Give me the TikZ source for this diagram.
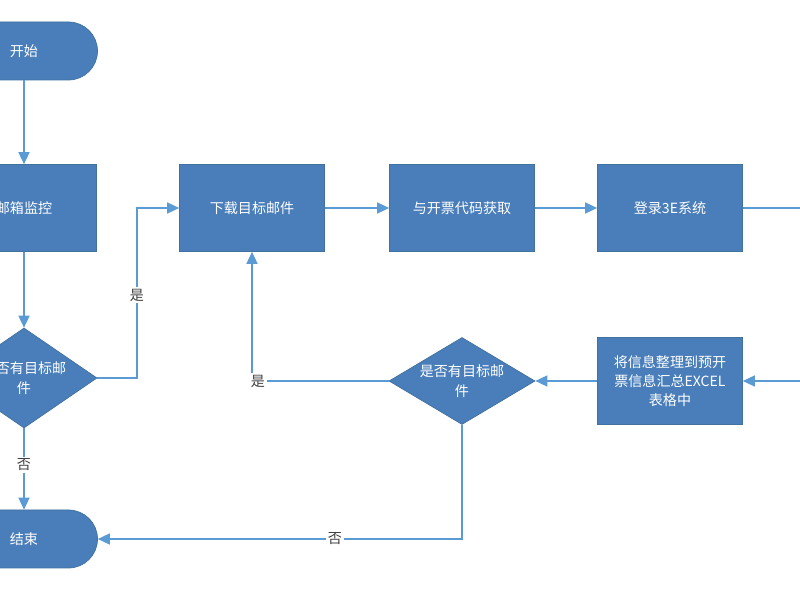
\documentclass[tikz,border=0pt]{standalone}
\usepackage{fontspec}
\newfontfamily\cjk{Noto Sans CJK SC}
\usetikzlibrary{shapes.geometric,arrows.meta}
\definecolor{boxfill}{HTML}{4A7EBB}
\definecolor{boxline}{HTML}{41719C}
\definecolor{flowline}{HTML}{5B9BD5}
\tikzset{
  proc/.style={draw=boxline,fill=boxfill,text=white,minimum width=29mm,minimum height=17.4mm,
    align=center,font=\cjk\fontsize{8}{11}\selectfont,inner sep=1pt},
  term/.style={proc,minimum width=29.4mm,minimum height=11.6mm,rounded corners=5.8mm},
  dec/.style={proc,diamond,inner sep=0pt},
  dectext/.style={text=white,align=center,font=\cjk\fontsize{8}{11}\selectfont,inner sep=0pt},
  flow/.style={draw=flowline,line width=0.9pt,-{Triangle[length=2.4mm,width=2.2mm]}},
  lab/.style={font=\cjk\fontsize{8}{10}\selectfont,text=black!75,fill=white,inner sep=1pt}
}
\begin{document}
\begin{tikzpicture}[x=0.2mm,y=-0.2mm]
  \clip (0,0) rectangle (800,600);
  \fill[white] (0,0) rectangle (800,600);
  \node[term] (start) at (24,51) {开始};
  \node[proc] (monitor) at (24,208) {邮箱监控};
  \node[dec,minimum width=29.2mm,minimum height=20mm] (check1) at (24,378) {};
  \node[dectext] at (check1) {是否有目标邮\\件};
  \node[term] (stop) at (24,539) {结束};
  \node[proc] (download) at (252,208) {下载目标邮件};
  \node[proc] (fetch) at (462,208) {与开票代码获取};
  \node[proc] (login) at (670,208) {登录3E系统};
  \node[proc] (sheet) at (670,381) {将信息整理到预开\\票信息汇总EXCEL\\表格中};
  \node[dec,minimum width=29.2mm,minimum height=17.4mm] (check2) at (462,381) {};
  \node[dectext] at (check2) {是否有目标邮\\件};
  \coordinate (outR) at (805,208);
  \coordinate (inR) at (805,381);

  \draw[flow] (start) -- (monitor);
  \draw[flow] (monitor) -- (check1);
  \draw[flow] (check1.east) -| (137,295) |- (download.west);
  \node[lab] at (137,295) {是};
  \draw[flow] (check1) -- node[lab,pos=0.45] {否} (stop);
  \draw[flow] (download) -- (fetch);
  \draw[flow] (fetch) -- (login);
  \draw[draw=flowline,line width=0.9pt] (login) -- (outR);
  \draw[flow] (inR) -- (sheet);
  \draw[flow] (sheet) -- (check2);
  \draw[flow] (check2.west) -| (download.south);
  \node[lab] at (258,381) {是};
  \draw[flow] (check2.south) |- (stop.east);
  \node[lab] at (335,539) {否};
\end{tikzpicture}
\end{document}
